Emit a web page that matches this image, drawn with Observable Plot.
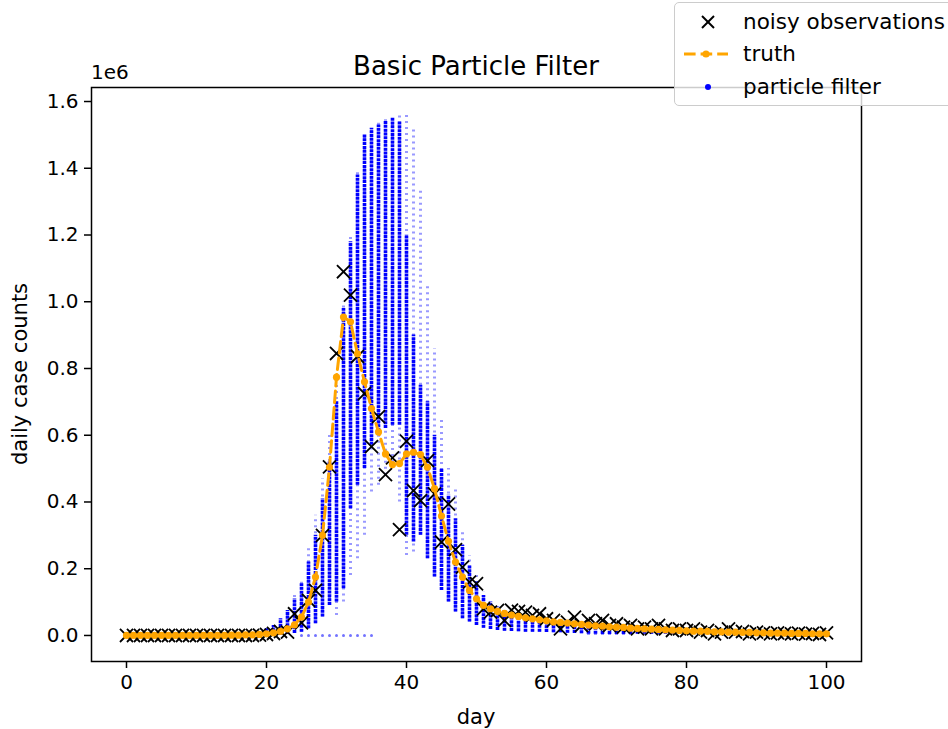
<!DOCTYPE html>
<html>
<head>
<meta charset="utf-8">
<script src="https://cdn.jsdelivr.net/npm/d3@7"></script>
<script src="https://cdn.jsdelivr.net/npm/@observablehq/plot@0.6"></script>
<style>
  html, body { margin: 0; padding: 0; background: #fff; overflow: hidden; }
  #wrap { position: relative; width: 948px; height: 729px; font-family: "DejaVu Sans", sans-serif; color: #000; }
  .txt { position: absolute; white-space: nowrap; line-height: 1; }
  #legend { position: absolute; left: 674px; top: 2px; width: 300px; height: 104px; border: 1.5px solid #cccccc; border-radius: 5px; background: rgba(255,255,255,0.8); box-sizing: border-box; }
</style>
</head>
<body>
<div id="wrap"></div>
<script>
// ---- data (values in units of 1e6 daily cases) ----
const days = d3.range(0, 101);

const observations = [
  0,0,0,0,0,0,0,0,0,0,
  0,0,0,0,0,0,0,0,0,0.001,
  0.003,0.006,0.012,0.01,0.065,0.038,0.105,0.135,0.30,0.505,
  0.845,1.09,1.02,0.836,0.725,0.566,0.656,0.482,0.532,0.317,
  0.582,0.434,0.404,0.524,0.424,0.28,0.394,0.257,0.205,0.16,
  0.155,0.08,0.07,0.075,0.045,0.076,0.072,0.07,0.06,0.065,
  0.05,0.045,0.02,0.04,0.055,0.03,0.045,0.035,0.045,0.03,
  0.035,0.025,0.03,0.02,0.025,0.02,0.03,0.02,0.015,0.02,
  0.015,0.02,0.01,0.015,0.005,0.01,0.02,0.01,0.012,0.005,
  0.01,0.008,0.005,0.008,0.006,0.005,0.007,0.004,0.006,0.003,0.008
];

const truth = [
  0,0,0,0,0,0,0,0,0,0,
  0,0,0,0,0,0.001,0.001,0.002,0.002,0.003,
  0.005,0.008,0.012,0.02,0.032,0.055,0.1,0.175,0.3,0.504,
  0.774,0.954,0.94,0.844,0.76,0.68,0.61,0.544,0.512,0.515,
  0.544,0.549,0.542,0.504,0.44,0.358,0.282,0.22,0.175,0.135,
  0.11,0.09,0.08,0.072,0.066,0.061,0.057,0.053,0.05,0.047,
  0.044,0.041,0.039,0.037,0.035,0.033,0.031,0.029,0.028,0.026,
  0.025,0.024,0.022,0.021,0.02,0.019,0.018,0.017,0.016,0.015,
  0.014,0.013,0.013,0.012,0.011,0.011,0.01,0.01,0.009,0.009,
  0.008,0.008,0.007,0.007,0.007,0.006,0.006,0.006,0.005,0.005,0.005
];

// particle cloud per day: dense band (pfLo..pfHi) and sparse extent (pfMin..pfMax)
const pfLo = [
  0,0,0,0,0,0,0,0,0,0,
  0,0,0,0,0,0,0,0,0,0,
  0,0,0.001,0.003,0.006,0.01,0.02,0.035,0.055,0.09,
  0.1,0.14,0.38,0.45,0.5,0.57,0.6,0.62,0.63,0.63,
  0.3,0.28,0.3,0.23,0.175,0.135,0.1,0.07,0.05,0.04,
  0.03,0.022,0.018,0.015,0.013,0.012,0.011,0.01,0.01,0.01,
  0.009,0.008,0.008,0.007,0.006,0.005,0.004,0.004,0.003,0.003,
  0.003,0.003,0.003,0.004,0.004,0.004,0.004,0.004,0.004,0.004,
  0.004,0.004,0.004,0.004,0.003,0.003,0.003,0.003,0.003,0.003,
  0.003,0.003,0.003,0.003,0.003,0.003,0.003,0.003,0.003,0.003,0.003
];
const pfHi = [
  0.003,0.003,0.003,0.003,0.003,0.003,0.003,0.003,0.003,0.003,
  0.003,0.003,0.003,0.003,0.003,0.003,0.003,0.003,0.003,0.01,
  0.02,0.03,0.05,0.075,0.11,0.155,0.22,0.3,0.41,0.52,
  0.7,0.98,1.18,1.38,1.5,1.52,1.53,1.54,1.55,1.54,
  1.2,0.9,0.75,0.7,0.6,0.5,0.42,0.35,0.27,0.21,
  0.16,0.12,0.1,0.085,0.075,0.068,0.062,0.057,0.053,0.05,
  0.046,0.043,0.04,0.038,0.036,0.034,0.032,0.03,0.028,0.027,
  0.025,0.024,0.022,0.021,0.02,0.019,0.018,0.017,0.016,0.015,
  0.014,0.013,0.013,0.012,0.011,0.011,0.01,0.01,0.009,0.009,
  0.008,0.008,0.007,0.007,0.007,0.006,0.006,0.006,0.005,0.005,0.005
];
const pfMin = [
  0,0,0,0,0,0,0,0,0,0,
  0,0,0,0,0,0,0,0,0,0,
  0,0,0.001,0.003,0.006,0.01,0.02,0.035,0.055,0.09,
  0.06,0.1,0.18,0.23,0.3,0.43,0.45,0.48,0.5,0.4,
  0.24,0.25,0.3,0.23,0.175,0.135,0.1,0.07,0.05,0.04,
  0.03,0.022,0.018,0.015,0.013,0.012,0.011,0.01,0.01,0.01,
  0.009,0.008,0.008,0.007,0.006,0.005,0,0,0,0,
  0,0,0,0.004,0.004,0.004,0.004,0.004,0.004,0.004,
  0.004,0.004,0.004,0.004,0.003,0.003,0.003,0.003,0.003,0.003,
  0.003,0.003,0.003,0.003,0.003,0.003,0.003,0.003,0.003,0.003,0.003
];
const pfMax = [
  0.003,0.003,0.003,0.003,0.003,0.003,0.003,0.003,0.003,0.003,
  0.003,0.003,0.003,0.003,0.003,0.003,0.003,0.003,0.003,0.01,
  0.02,0.03,0.05,0.075,0.12,0.17,0.26,0.36,0.47,0.6,
  0.78,1.0,1.2,1.39,1.505,1.525,1.535,1.545,1.555,1.56,
  1.57,1.52,1.34,1.05,0.86,0.65,0.5,0.44,0.32,0.24,
  0.18,0.13,0.1,0.085,0.075,0.068,0.062,0.057,0.053,0.05,
  0.046,0.043,0.04,0.038,0.036,0.034,0.032,0.03,0.028,0.027,
  0.025,0.024,0.022,0.021,0.02,0.019,0.018,0.017,0.016,0.015,
  0.014,0.013,0.013,0.012,0.011,0.011,0.01,0.01,0.009,0.009,
  0.008,0.008,0.007,0.007,0.007,0.006,0.006,0.006,0.005,0.005,0.005
];
// particles that collapsed to zero
const zeroDays = [25,26,27,28,29,30,31,32,33,34,35];
const zeroVals = [0,0,0,0,0,0,0,0,0,0,0];

const xTicks = [0, 20, 40, 60, 80, 100];
const yTicks = [0, 0.2, 0.4, 0.6, 0.8, 1.0, 1.2, 1.4, 1.6];

// ---- tables ----
const pf = days.map((d, i) => ({day: d, lo: pfLo[i], hi: pfHi[i], min: pfMin[i], max: pfMax[i]}));
const obs = days.map((d, i) => ({day: d, v: observations[i]}));
const tr = days.map((d, i) => ({day: d, v: truth[i]}));
const zeros = zeroDays.map((d, i) => ({day: d, v: zeroVals[i]}));

const chart = Plot.plot({
  width: 948,
  height: 729,
  marginLeft: 91,
  marginRight: 87,
  marginTop: 87,
  marginBottom: 68,
  style: {fontFamily: "DejaVu Sans, sans-serif", fontSize: "20px", color: "#000", background: "transparent", overflow: "visible"},
  x: {domain: [-5, 105]},
  y: {domain: [-0.078, 1.642]},
  marks: [
    Plot.ruleX(pf, {x: "day", y1: "min", y2: "max", stroke: "#0000ff", strokeWidth: 3, strokeOpacity: 0.4, strokeDasharray: "2,4"}),
    Plot.ruleX(pf, {x: "day", y1: "lo", y2: "hi", stroke: "#0000ff", strokeWidth: 3.6, strokeOpacity: 1, strokeDasharray: "3,0.8"}),
    Plot.dot(zeros, {x: "day", y: "v", r: 1.5, fill: "#0000ff", fillOpacity: 0.55, stroke: "none"}),
    Plot.dot(obs, {x: "day", y: "v", symbol: "times", r: 6, stroke: "#000", strokeWidth: 1.8}),
    Plot.line(tr, {x: "day", y: "v", stroke: "#ffa500", strokeWidth: 3, strokeDasharray: "11.6,5"}),
    Plot.dot(tr, {x: "day", y: "v", r: 3.6, fill: "#ffa500", stroke: "none"}),
    Plot.frame({stroke: "#000", strokeWidth: 1.5}),
    Plot.axisX({ticks: xTicks, tickFormat: d3.format("d"), tickSize: 7, tickPadding: 6, label: null, stroke: "#000", strokeWidth: 1.5}),
    Plot.axisY({ticks: yTicks, tickFormat: d3.format(".1f"), tickSize: 7, tickPadding: 6, label: null, stroke: "#000", strokeWidth: 1.5})
  ]
});

const wrap = document.getElementById("wrap");
chart.style.position = "absolute";
chart.style.left = "0px";
chart.style.top = "0px";
wrap.appendChild(chart);

function addText(str, css) {
  const el = document.createElement("div");
  el.className = "txt";
  el.textContent = str;
  Object.assign(el.style, css);
  wrap.appendChild(el);
  return el;
}
addText("Basic Particle Filter", {left: "476px", top: "66px", fontSize: "26px", transform: "translate(-50%,-50%)"});
addText("1e6", {left: "91px", top: "72px", fontSize: "20px", transform: "translate(0,-50%)"});
addText("day", {left: "476px", top: "717px", fontSize: "21px", transform: "translate(-50%,-50%)"});
addText("daily case counts", {left: "20px", top: "374px", fontSize: "21px", transform: "translate(-50%,-50%) rotate(-90deg)"});

// legend
const legend = document.createElement("div");
legend.id = "legend";
legend.innerHTML = `
<svg width="80" height="104" style="position:absolute;left:0;top:0">
  <g transform="translate(33,19)" stroke="#000" stroke-width="2">
    <line x1="-6" y1="-6" x2="6" y2="6"/><line x1="-6" y1="6" x2="6" y2="-6"/>
  </g>
  <line x1="9" y1="51" x2="53" y2="51" stroke="#ffa500" stroke-width="3" stroke-dasharray="11.6,5"/>
  <circle cx="31" cy="51" r="3.6" fill="#ffa500"/>
  <circle cx="33" cy="84" r="3" fill="#0000ff"/>
</svg>`;
wrap.appendChild(legend);
[["noisy observations", 19], ["truth", 51], ["particle filter", 84]].forEach(([t, y]) => {
  const el = document.createElement("div");
  el.className = "txt";
  el.textContent = t;
  Object.assign(el.style, {left: "68px", top: y + "px", fontSize: "21.5px", transform: "translate(0,-50%)"});
  legend.appendChild(el);
});
</script>
</body>
</html>
